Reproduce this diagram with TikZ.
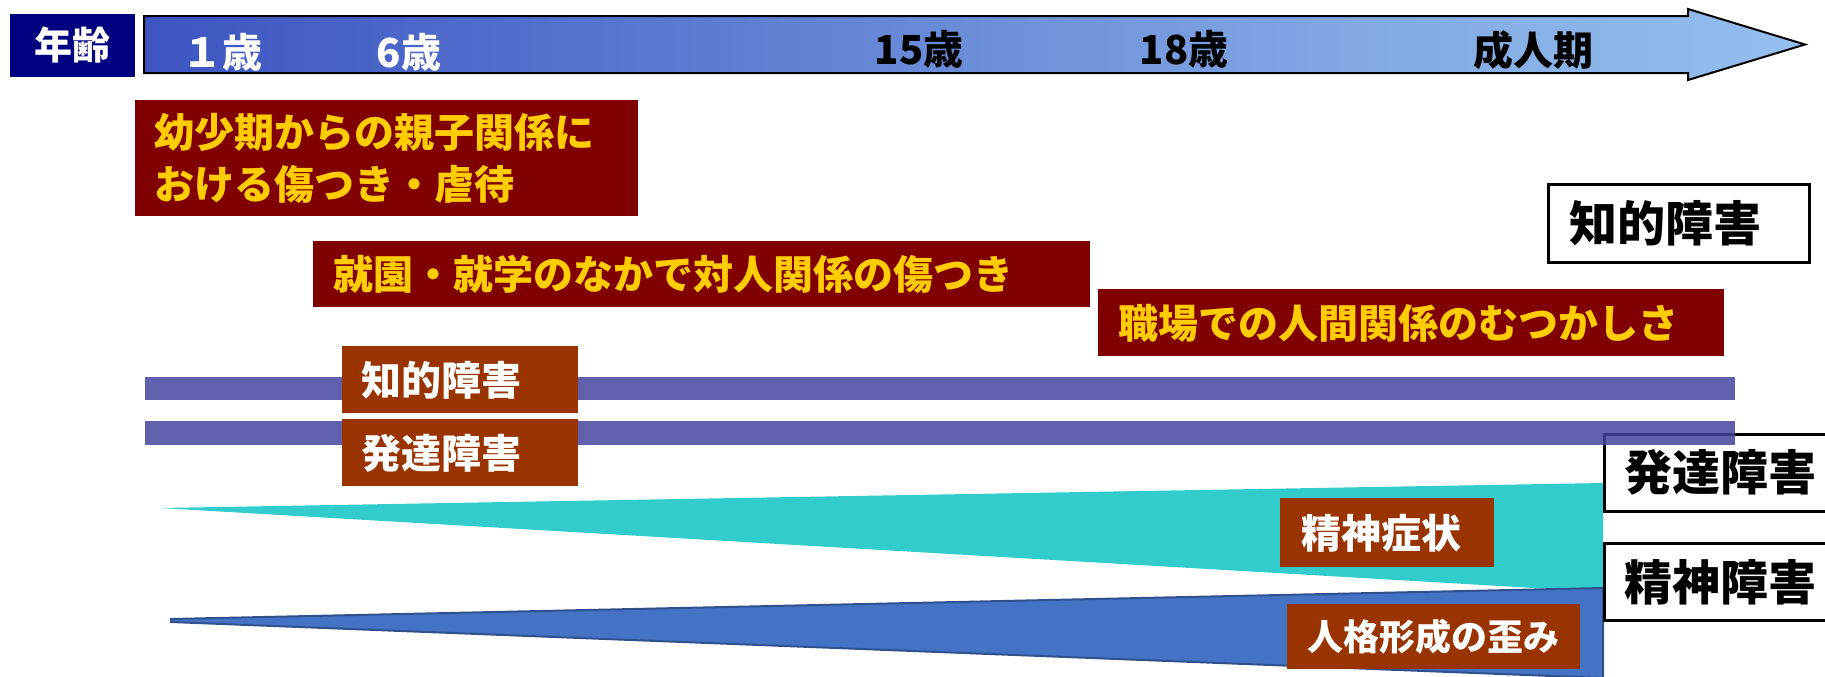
\documentclass[tikz,border=0pt]{standalone}
\usepackage{fontspec}
\newfontfamily\jp{Noto Sans CJK JP}
\definecolor{navyc}{HTML}{000080}
\definecolor{boxred}{HTML}{800000}
\definecolor{ylw}{HTML}{FFCC00}
\definecolor{brn}{HTML}{993300}
\definecolor{barc}{HTML}{44449D}
\definecolor{teal1}{HTML}{33CCCC}
\definecolor{blue1}{HTML}{4472C4}
\definecolor{blue2}{HTML}{2F528F}
\definecolor{ab1}{HTML}{0E22B0}
\definecolor{ab2}{HTML}{4660C6}
\definecolor{ab3}{HTML}{82AAE4}
\definecolor{ab4}{HTML}{A2CFF5}
\pgfdeclarehorizontalshading{arrowsh}{100bp}{color(0bp)=(ab1); color(30bp)=(ab2); color(62bp)=(ab3); color(85bp)=(ab4); color(100bp)=(ab4)}
\begin{document}
\begin{tikzpicture}[x=0.5pt,y=-0.5pt,
  lbl/.style={font=\jp\bfseries\fontsize{20}{24}\selectfont, inner sep=0pt},
  redbox/.style={fill=boxred, text=ylw, font=\jp\bfseries\fontsize{20}{26}\selectfont, anchor=north west, align=left, inner ysep=0pt},
  brbox/.style={fill=brn, text=white, font=\jp\bfseries\fontsize{20}{24}\selectfont, anchor=north west, align=left, inner ysep=0pt},
  wbox/.style={draw=black, line width=1.3pt, fill=white, text=black, font=\jp\bfseries\fontsize{24}{28}\selectfont, anchor=north west, align=left, inner ysep=0pt},
  barstyle/.style={fill=barc, fill opacity=0.85}
]
\clip (0,0) rectangle (1825,676);
\useasboundingbox (0,0) rectangle (1825,676);

% age label
\node[fill=navyc, text=white, font=\jp\bfseries\fontsize{19}{22}\selectfont, minimum width=62.5pt, minimum height=31.5pt, inner sep=0pt] (age) at (72.5,45.5) {年齢};

% timeline arrow
\shadedraw[shading=arrowsh, draw=black, line width=1pt] (144,16) -- (1688,16) -- (1688,9) -- (1805,44.5) -- (1688,80) -- (1688,73) -- (144,73) -- cycle;
\node[lbl, text=white] (a1) at (222,52) {１歳};
\node[lbl, text=white] (a6) at (409,52) {6歳};
\node[lbl, text=black] (a15) at (919,49) {15歳};
\node[lbl, text=black] (a18) at (1184,49) {18歳};
\node[lbl, text=black] (adult) at (1533,50) {成人期};

% red boxes
\node[redbox, minimum width=251.5pt, minimum height=58pt, inner xsep=9.5pt, text width=232.5pt] (bA) at (135,100) {幼少期からの親子関係に\\おける傷つき・虐待};
\node[redbox, minimum width=388.5pt, minimum height=33pt, inner xsep=10pt, text width=368.5pt] (bB) at (313,241) {就園・就学のなかで対人関係の傷つき};
\node[redbox, minimum width=313pt, minimum height=33.5pt, inner xsep=10pt, text width=293pt] (bC) at (1098,289) {職場での人間関係のむつかしさ};

% right label: intellectual disability
\node[wbox, minimum width=130.5pt, minimum height=39pt, inner xsep=10.5pt, text width=109.5pt] (rID) at (1547,183) {知的障害};

% wedges
\fill[teal1] (160,508) -- (1603,483) -- (1603,592) -- cycle;
\filldraw[fill=blue1, draw=blue2, line width=1pt] (171,619) -- (1603,588) -- (1603,678) -- (171,622) -- cycle;

% right labels
\node[wbox, minimum width=118.5pt, minimum height=38.5pt, inner xsep=10pt, text width=98.5pt] (rDD) at (1603,433) {発達障害};
\node[wbox, minimum width=118.5pt, minimum height=38.5pt, inner xsep=10pt, text width=98.5pt] (rMD) at (1603,542) {精神障害};

% bars
\fill[barstyle] (145,377) rectangle (1735,400);
\fill[barstyle] (145,421) rectangle (1735,445);

% brown boxes
\node[brbox, minimum width=118pt, minimum height=33.5pt, inner xsep=9.5pt, text width=99pt] (lID) at (342,346) {知的障害};
\node[brbox, minimum width=118pt, minimum height=33.5pt, inner xsep=9.5pt, text width=99pt] (lDD) at (342,419) {発達障害};
\node[brbox, minimum width=107pt, minimum height=34.5pt, inner xsep=10.5pt, text width=86pt] (sym) at (1280,498) {精神症状};
\node[brbox, font=\jp\bfseries\fontsize{18}{22}\selectfont, minimum width=146.5pt, minimum height=32.5pt, inner xsep=10pt, text width=126.5pt] (pers) at (1287,604) {\mbox{人格形成の歪み}};
\end{tikzpicture}
\end{document}
